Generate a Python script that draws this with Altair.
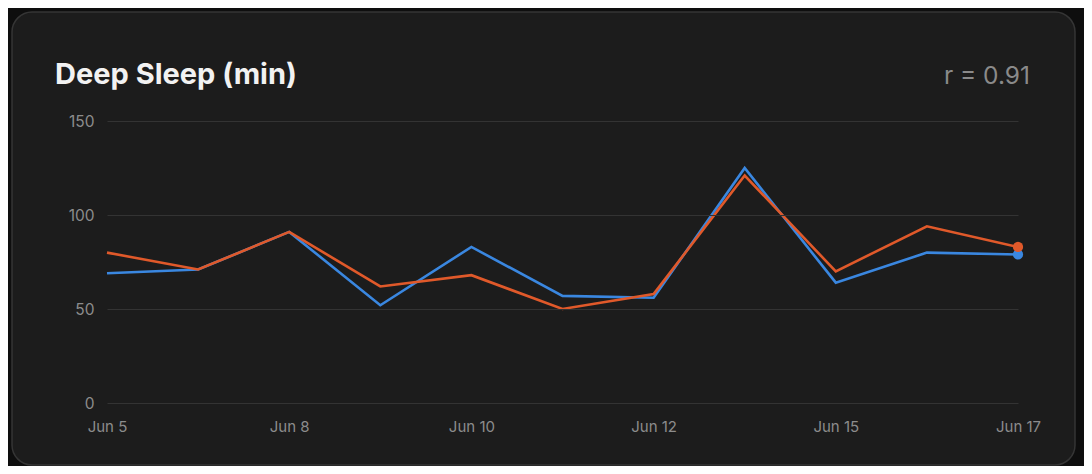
import altair as alt
import pandas as pd

dates = ["Jun 5", "Jun 7", "Jun 8", "Jun 9", "Jun 10", "Jun 11",
         "Jun 12", "Jun 13", "Jun 15", "Jun 16", "Jun 17"]
shown_dates = ["Jun 5", "Jun 8", "Jun 10", "Jun 12", "Jun 15", "Jun 17"]
series_a = [69, 71, 91, 52, 83, 57, 56, 125, 64, 80, 79]
series_b = [80, 71, 91, 62, 68, 50, 58, 121, 70, 94, 83]
y_ticks = [0, 50, 100, 150]

BLUE = "#3a87e0"
ORANGE = "#e0592a"

df = pd.DataFrame({
    "date": dates * 2,
    "value": series_a + series_b,
    "series": ["A"] * len(dates) + ["B"] * len(dates),
})
last = df[df["date"] == dates[-1]]

W, H = 911, 282

x_enc = alt.X("date:O", sort=dates, scale=alt.Scale(type="point", padding=0),
              axis=alt.Axis(values=shown_dates, labelAngle=0, title=None, ticks=False,
                            domain=False, grid=False, labelPadding=16,
                            labelColor="#8c8c8c", labelFontSize=15,
                            labelFont="Inter", zindex=1))
y_enc = alt.Y("value:Q", scale=alt.Scale(domain=[0, 150], nice=False),
              axis=alt.Axis(values=y_ticks, title=None, ticks=False, domain=False,
                            grid=True, gridColor="#333333", gridWidth=1,
                            labelPadding=13, labelColor="#8c8c8c",
                            labelFontSize=15.5, labelFont="Inter", zindex=1))
color_enc = alt.Color("series:N", scale=alt.Scale(domain=["A", "B"], range=[BLUE, ORANGE]),
                      legend=None)

card = alt.Chart(pd.DataFrame({"k": [0]})).mark_rect(
    fill="#1c1c1c", stroke="#353535", strokeWidth=1.5, cornerRadius=20
).encode(x=alt.value(-95), x2=alt.value(968), y=alt.value(-109), y2=alt.value(344))

title = alt.Chart(pd.DataFrame({"t": ["Deep Sleep (min)"]})).mark_text(
    align="left", baseline="alphabetic", fontSize=29, fontWeight="bold",
    font="Inter", color="#f2f2f2"
).encode(x=alt.value(-52), y=alt.value(-37), text="t:N")

rtext = alt.Chart(pd.DataFrame({"t": ["r = 0.91"]})).mark_text(
    align="right", baseline="alphabetic", fontSize=24.5, font="Inter", color="#8a8a8a"
).encode(x=alt.value(1030 - 107), y=alt.value(-37), text="t:N")

base = alt.Chart(df)
line_a = base.transform_filter("datum.series == 'A'").mark_line(strokeWidth=2.6).encode(
    x=x_enc, y=y_enc, color=color_enc)
line_b = base.transform_filter("datum.series == 'B'").mark_line(strokeWidth=2.6).encode(
    x=x_enc, y=y_enc, color=color_enc)
dots = alt.Chart(last).mark_circle(size=105, opacity=1).encode(
    x=x_enc, y=y_enc, color=color_enc, order=alt.Order("series:N"))

chart = alt.layer(card, title, rtext, line_a, line_b, dots).properties(
    width=W, height=H,
    padding={"left": 99, "top": 113, "right": 66, "bottom": 63},
    autosize=alt.AutoSizeParams(type="none"),
    background="#0e0e0e",
).configure_view(stroke=None)

chart.save("out.html", embed_options={"renderer": "svg", "actions": False})
